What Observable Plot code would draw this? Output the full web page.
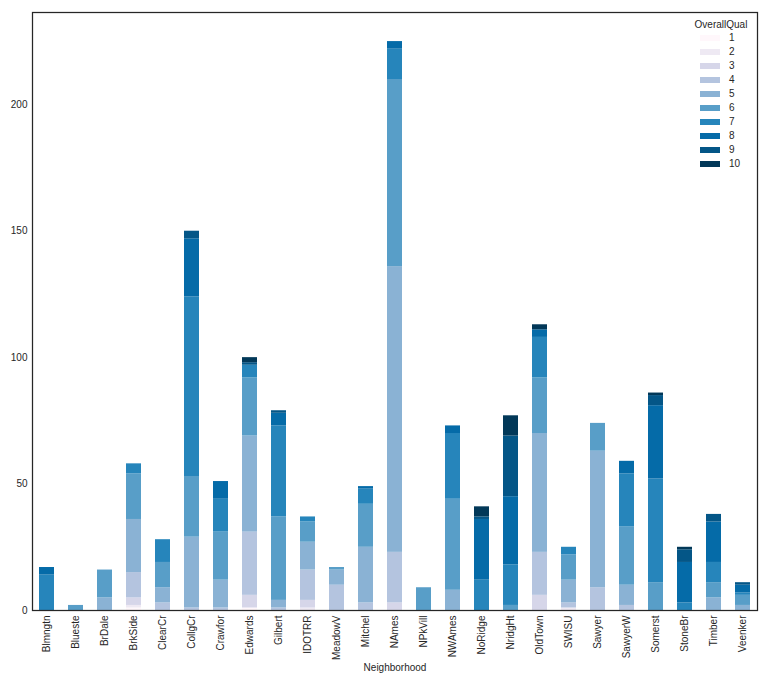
<!DOCTYPE html>
<html>
<head>
<meta charset="utf-8">
<script src="https://cdn.jsdelivr.net/npm/d3@7"></script>
<script src="https://cdn.jsdelivr.net/npm/@observablehq/plot@0.6"></script>
<style>
  html, body { margin: 0; padding: 0; background: #fff; }
  #wrap { position: relative; width: 774px; height: 674px; font-family: "Liberation Sans", Arial, sans-serif; color: #262626; }
  #legend { position: absolute; left: 690px; top: 19px; font-size: 10px; }
  #legend .title { position: absolute; left: 0px; top: 0px; width: 62px; text-align: center; white-space: nowrap; line-height: 12px; }
  #legend .row { position: absolute; left: 0; height: 12px; }
  #legend .sw { position: absolute; left: 10px; top: 3px; width: 20px; height: 6px; }
  #legend .lb { position: absolute; left: 39px; top: 0px; line-height: 12px; }
</style>
</head>
<body>
<div id="wrap"><div id="chart"></div><div id="legend"></div></div>
<script>
const neighborhoods = ["Blmngtn","Blueste","BrDale","BrkSide","ClearCr","CollgCr","Crawfor","Edwards","Gilbert","IDOTRR","MeadowV","Mitchel","NAmes","NPkVill","NWAmes","NoRidge","NridgHt","OldTown","SWISU","Sawyer","SawyerW","Somerst","StoneBr","Timber","Veenker"];
const qualLevels = [1,2,3,4,5,6,7,8,9,10];
// counts per OverallQual level, one value per neighborhood (same order)
const qual1  = [0,0,0,1,0,0,0,1,0,0,0,0,0,0,0,0,0,0,0,0,0,0,0,0,0];
const qual2  = [0,0,0,1,0,0,0,0,0,1,0,0,0,0,0,0,0,0,1,0,0,0,0,0,0];
const qual3  = [0,0,0,3,0,0,0,5,0,3,0,0,3,0,0,0,0,6,0,0,0,0,0,0,0];
const qual4  = [0,0,0,10,3,1,1,25,1,12,10,3,20,0,0,0,0,17,2,9,2,0,0,0,0];
const qual5  = [0,0,5,21,6,28,11,38,3,11,6,22,113,0,8,0,0,47,9,54,8,0,0,5,2];
const qual6  = [0,2,11,18,10,24,19,23,33,8,1,17,74,9,36,0,2,22,10,11,23,11,0,6,4];
const qual7  = [14,0,0,4,9,71,13,5,36,2,0,6,12,0,26,12,16,16,3,0,21,41,3,8,1];
const qual8  = [3,0,0,0,0,23,7,0,5,0,0,1,3,0,3,24,27,3,0,0,5,29,16,16,3];
const qual9  = [0,0,0,0,0,3,0,1,1,0,0,0,0,0,0,1,24,0,0,0,0,4,5,3,1];
const qual10 = [0,0,0,0,0,0,0,2,0,0,0,0,0,0,0,4,8,2,0,0,0,1,1,0,0];
const yTicks = [0,50,100,150,200];

const series = [qual1,qual2,qual3,qual4,qual5,qual6,qual7,qual8,qual9,qual10];
const rows = [];
qualLevels.forEach((q, qi) => {
  neighborhoods.forEach((n, ni) => {
    rows.push({Neighborhood: n, OverallQual: q, count: series[qi][ni]});
  });
});

const interp = d3.piecewise(d3.interpolateRgb, d3.schemePuBu[9]);
const colors = qualLevels.map((q, i) => d3.color(interp(i / (qualLevels.length - 1))).formatHex());

const chart = Plot.plot({
  width: 774,
  height: 674,
  marginTop: 12,
  marginLeft: 32,
  marginRight: 17,
  marginBottom: 64,
  style: {fontFamily: "'Liberation Sans', Arial, sans-serif", fontSize: "10px", color: "#262626", background: "#fff"},
  x: {domain: neighborhoods, padding: 0.5, paddingOuter: 0.25},
  y: {domain: [0, 236.5]},
  color: {domain: qualLevels, range: colors, type: "ordinal"},
  marks: [
    Plot.barY(rows, {x: "Neighborhood", y: "count", fill: "OverallQual", order: qualLevels}),
    Plot.axisY({ticks: yTicks, tickSize: 0, tickPadding: 5, label: null}),
    Plot.axisX({tickSize: 0, tickPadding: 5, tickRotate: -90, label: "Neighborhood", labelAnchor: "center", labelArrow: "none", labelOffset: 60}),
    Plot.frame({stroke: "#262626", strokeWidth: 1.25})
  ]
});
document.getElementById("chart").appendChild(chart);

const legend = document.getElementById("legend");
const title = document.createElement("div");
title.className = "title";
title.textContent = "OverallQual";
legend.appendChild(title);
qualLevels.forEach((q, i) => {
  const row = document.createElement("div");
  row.className = "row";
  row.style.top = (13 + i * 14) + "px";
  const sw = document.createElement("div");
  sw.className = "sw";
  sw.style.background = colors[i];
  const lb = document.createElement("div");
  lb.className = "lb";
  lb.textContent = q;
  row.appendChild(sw);
  row.appendChild(lb);
  legend.appendChild(row);
});
</script>
</body>
</html>
